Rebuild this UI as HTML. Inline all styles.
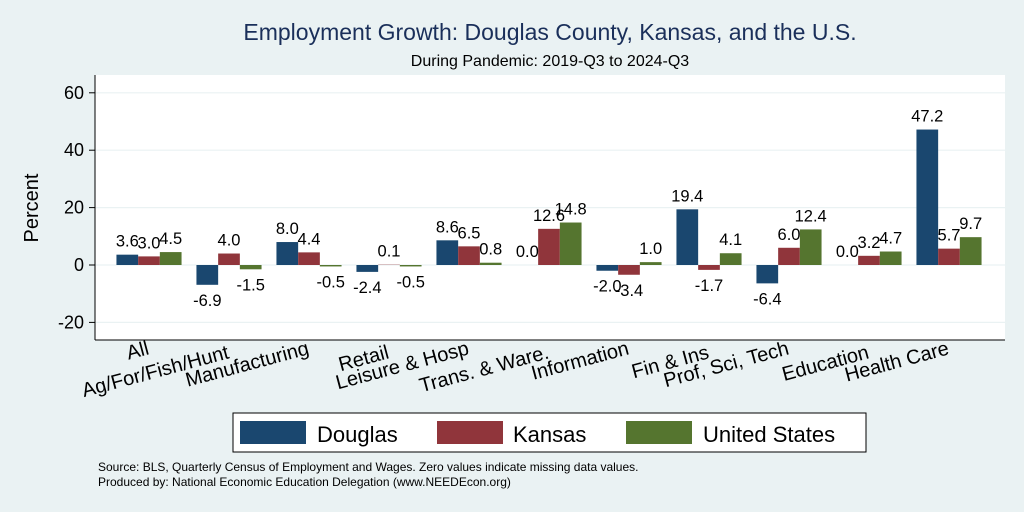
<!DOCTYPE html>
<html><head><meta charset="utf-8"><style>
body{margin:0;background:#eaf2f3;font-family:"Liberation Sans",Arial,sans-serif}
</style></head><body>
<svg width="1024" height="512" xmlns="http://www.w3.org/2000/svg" id="chart" style="display:block;font-family:'Liberation Sans',Arial,sans-serif">
<rect width="1024" height="512" fill="#eaf2f3"/>
<text x="550" y="40" font-size="23" fill="#1a2f5a" text-anchor="middle">Employment Growth: Douglas County, Kansas, and the U.S.</text>
<text x="550" y="66" font-size="16" fill="#000" text-anchor="middle">During Pandemic: 2019-Q3 to 2024-Q3</text>
<rect x="95" y="75" width="910" height="265" fill="#fff"/>
<g id="grid"></g><g id="bars"></g><g id="labels"></g><g id="xlabels"></g>
<line x1="95" y1="75" x2="95" y2="340" stroke="#000" stroke-width="1"/>
<line x1="95" y1="340" x2="1005" y2="340" stroke="#000" stroke-width="1"/>
<text x="38" y="208" font-size="20" transform="rotate(-90 38 208)" text-anchor="middle">Percent</text>
<rect x="233" y="413" width="633" height="39" fill="#fff" stroke="#000" stroke-width="1"/>
<g><rect x="240" y="421" width="66" height="23" fill="#1a476f"/><text x="317" y="442" font-size="22">Douglas</text></g>
<g><rect x="437" y="421" width="66" height="23" fill="#90353b"/><text x="513" y="442" font-size="22">Kansas</text></g>
<g><rect x="626" y="421" width="66" height="23" fill="#55752f"/><text x="703" y="442" font-size="22">United States</text></g>
<text x="98" y="471" font-size="12">Source: BLS, Quarterly Census of Employment and Wages. Zero values indicate missing data values.</text>
<text x="98" y="486" font-size="12">Produced by: National Economic Education Delegation (www.NEEDEcon.org)</text>
</svg>
<script>
const categories=["All","Ag/For/Fish/Hunt","Manufacturing","Retail","Leisure & Hosp","Trans. & Ware.","Information","Fin & Ins","Prof, Sci, Tech","Education","Health Care"];
const douglas=[3.6,-6.9,8.0,-2.4,8.6,0.0,-2.0,19.4,-6.4,0.0,47.2];
const kansas=[3.0,4.0,4.4,0.1,6.5,12.6,-3.4,-1.7,6.0,3.2,5.7];
const unitedStates=[4.5,-1.5,-0.5,-0.5,0.8,14.8,1.0,4.1,12.4,4.7,9.7];
const yTicks=[-20,0,20,40,60];
const NS="http://www.w3.org/2000/svg";
const y0=265, pxPer=57.4/20;
function yScale(v){return y0-v*pxPer;}
function xGroup(i){return 149+i*80;}
const bw=21.7;
function mk(tag,attrs,parent,txt){const e=document.createElementNS(NS,tag);for(const k in attrs)e.setAttribute(k,attrs[k]);if(txt!==undefined)e.textContent=txt;document.getElementById(parent).appendChild(e);return e;}
yTicks.forEach(t=>{
  const y=yScale(t);
  const g=mk('line',{x1:95,x2:1005,y1:y,y2:y,stroke:'#eaf2f3','stroke-width':1.2},'grid');
  
  
  const tk=mk('line',{x1:89,x2:95,y1:y,y2:y,stroke:'#000'},'grid');
  
  
  const tl=mk('text',{x:84,y:y+6,'font-size':18,'text-anchor':'end'},'grid',String(t));
  
  
});
const series=[[douglas,'#1a476f','douglas'],[kansas,'#90353b','kansas'],[unitedStates,'#55752f','united-states']];
categories.forEach((c,i)=>{
  series.forEach((s,j)=>{
    const v=s[0][i];
    const x=xGroup(i)-1.5*bw+j*bw;
    const y=Math.min(yScale(v),y0), h=Math.abs(yScale(v)-y0);
    const r=mk('rect',{x:x,y:y,width:bw,height:h,fill:s[1]},'bars');
    
    
    const ly=v>=0?yScale(v)-8:yScale(v)+21;
    const t=mk('text',{x:x+bw/2,y:ly,'font-size':16.5,'text-anchor':'middle'},'labels',v.toFixed(1));
    
    
  });
  const lx=xGroup(i)+1, ly=(i%2===0)?354:358;
  const xl=mk('text',{x:lx,y:ly,'font-size':20,'text-anchor':'end',transform:'rotate(-15 '+lx+' '+ly+')'},'xlabels',c);
  
  
});
</script>
</body></html>
